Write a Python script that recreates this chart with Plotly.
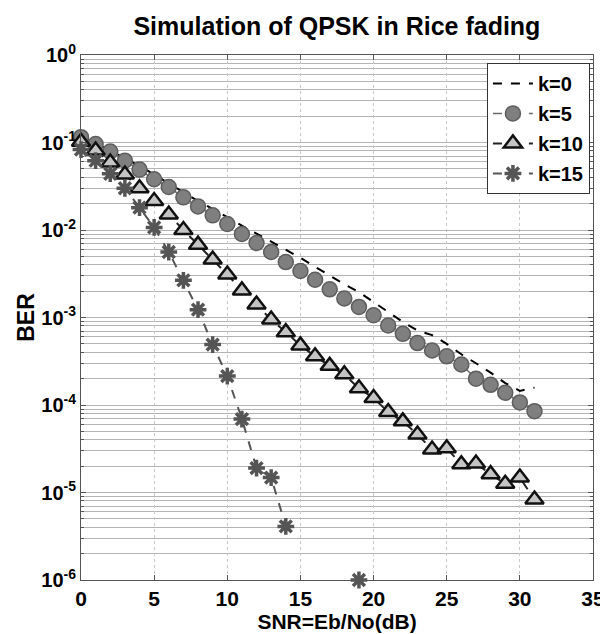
import plotly.graph_objects as go

# SNR axis (dB)
snr = list(range(0, 32))

# BER
ber_k0 = [0.117, 0.098, 0.081, 0.066, 0.054, 0.043, 0.034, 0.027, 0.0214, 0.0174,
          0.0138, 0.0112, 0.0091, 0.0074, 0.0059, 0.0048, 0.0038, 0.0030, 0.0024, 0.00195,
          0.00151, 0.00117, 0.00089, 0.00071, 0.00063, 0.00050, 0.00038, 0.00030, 0.000234, 0.000178,
          0.000145, 0.000158]
ber_k5 = [0.115, 0.096, 0.079, 0.062, 0.049, 0.038, 0.031, 0.0236, 0.0186, 0.0147,
          0.0117, 0.0090, 0.0071, 0.0056, 0.0043, 0.0034, 0.0027, 0.0021, 0.00165, 0.00132,
          0.00106, 0.00081, 0.00065, 0.00051, 0.00042, 0.00036, 0.00029, 0.00020, 0.00017, 0.000138,
          0.000107, 0.000085]
ber_k10 = [0.102, 0.081, 0.059, 0.043, 0.030, 0.0214, 0.0150, 0.0100, 0.0068, 0.0046,
           0.0031, 0.00204, 0.00141, 0.00095, 0.00068, 0.00048, 0.00036, 0.00028, 0.000224, 0.000155,
           0.000120, 0.000083, 0.000065, 0.000046, 0.000031, 0.000032, 0.000021, 0.0000214, 0.0000162, 0.0000126,
           0.0000148, 0.0000083]
ber_k15 = [0.083, 0.062, 0.044, 0.030, 0.018, 0.0107, 0.0056, 0.00266, 0.00123, 0.00049,
           0.000214, 0.000069, 0.000019, 0.0000148, 0.0000041, None, None, None, None, 1e-6,
           None, None, None, None, None, None, None, None, None, None,
           None, None]

# y tick positions / labels
y_tickvals = [1e-6, 1e-5, 1e-4, 1e-3, 1e-2, 1e-1, 1]
y_ticktext = ["10<sup>-6</sup>", "10<sup>-5</sup>", "10<sup>-4</sup>", "10<sup>-3</sup>",
              "10<sup>-2</sup>", "10<sup>-1</sup>", "10<sup>0</sup>"]

FONT = "Liberation Sans, Arial"

fig = go.Figure()

fig.add_trace(go.Scatter(x=snr, y=ber_k0, name="k=0", mode="lines", legendgroup="a",
                         line=dict(color="black", width=2, dash="dash"),
                         cliponaxis=False))
fig.add_trace(go.Scatter(x=snr, y=ber_k5, name="k=5", mode="lines+markers", legendgroup="b",
                         line=dict(color="#6a6a6a", width=1.5, dash="dash"),
                         marker=dict(symbol="circle", size=15, color="#7f7f7f",
                                     line=dict(color="#5e5e5e", width=1.5)),
                         cliponaxis=False))
fig.add_trace(go.Scatter(x=snr, y=ber_k10, name="k=10", mode="lines+markers", legendgroup="c",
                         line=dict(color="#222222", width=2, dash="dash"),
                         marker=dict(symbol="triangle-up", size=16, color="#c4c4c4",
                                     line=dict(color="#111111", width=2.5)),
                         cliponaxis=False))
fig.add_trace(go.Scatter(x=snr, y=ber_k15, name="k=15", mode="lines+markers", legendgroup="d",
                         line=dict(color="#555555", width=2, dash="dash"),
                         marker=dict(symbol="asterisk-open", size=14,
                                     line=dict(color="#444444", width=3.5)),
                         cliponaxis=False))

fig.update_layout(
    width=608, height=634,
    margin=dict(l=73, r=23, t=47, b=62),
    paper_bgcolor="white", plot_bgcolor="white",
    font=dict(family=FONT, size=18, color="black", weight="bold"),
    title=dict(text="Simulation of QPSK in Rice fading", x=0.541, xanchor="center",
               yref="container", y=0.985, yanchor="top",
               font=dict(family=FONT, size=25, color="black", weight="bold")),
    legend=dict(x=0.994, y=0.985, xanchor="right", yanchor="top",
                bgcolor="white", bordercolor="#333333", borderwidth=1,
                font=dict(family=FONT, size=20, weight="bold"),
                tracegroupgap=1, itemwidth=40),
    showlegend=True,
)

fig.update_xaxes(
    range=[0, 35], dtick=5, tick0=0, automargin=False,
    showline=True, linecolor="#555555", linewidth=1, mirror="allticks",
    ticks="inside", ticklen=5, tickcolor="#555555",
    showgrid=True, gridcolor="#c8c8c8", griddash="dot", gridwidth=1,
    zeroline=False,
    tickfont=dict(family=FONT, size=21, weight="bold"),
    title=dict(text="SNR=Eb/No(dB)", standoff=0,
               font=dict(family=FONT, size=21, weight="bold")),
)
fig.update_yaxes(
    type="log", range=[-6, 0], automargin=False,
    tickmode="array", tickvals=y_tickvals, ticktext=y_ticktext,
    showline=True, linecolor="#555555", linewidth=1, mirror="allticks",
    ticks="inside", ticklen=5, tickcolor="#555555",
    showgrid=True, gridcolor="#b4b4b4", gridwidth=1.2,
    minor=dict(dtick="D1", showgrid=True, gridcolor="#b4b4b4", gridwidth=1.2,
               ticks="inside", ticklen=3, tickcolor="#555555"),
    zeroline=False,
    tickfont=dict(family=FONT, size=20, weight="bold"),
    title=dict(text="BER", standoff=0,
               font=dict(family=FONT, size=23, weight="bold")),
)

fig.write_html("out.html")
